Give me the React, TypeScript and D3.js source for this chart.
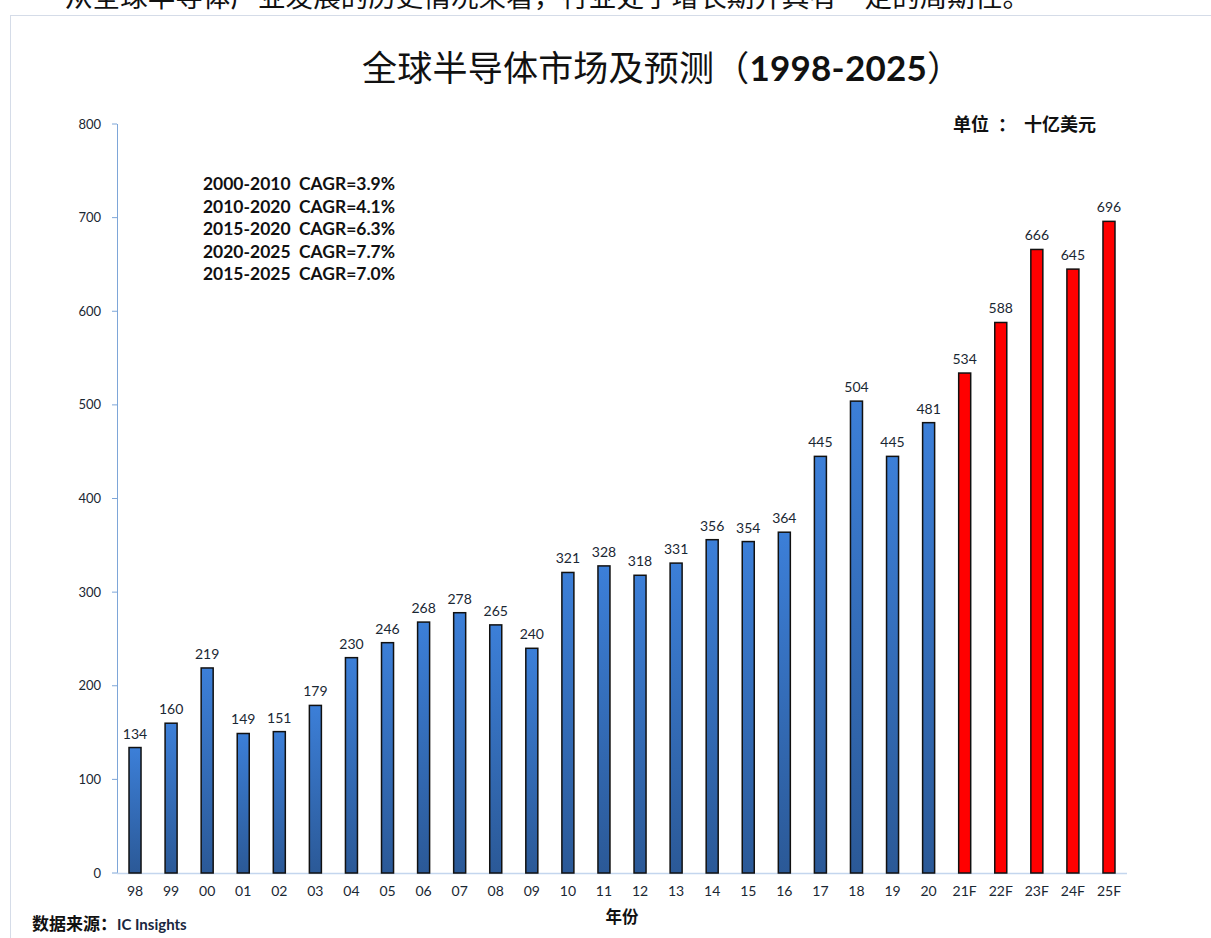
import React from "react";
import * as d3 from "d3";

const categories = ["98","99","00","01","02","03","04","05","06","07","08","09","10","11","12","13","14","15","16","17","18","19","20","21F","22F","23F","24F","25F"];
const values = [134,160,219,149,151,179,230,246,268,278,265,240,321,328,318,331,356,354,364,445,504,445,481,534,588,666,645,696];
const forecast = [false,false,false,false,false,false,false,false,false,false,false,false,false,false,false,false,false,false,false,false,false,false,false,true,true,true,true,true];
const yTicks = [0,100,200,300,400,500,600,700,800];
const cagrLines = ["2000-2010  CAGR=3.9%","2010-2020  CAGR=4.1%","2015-2020  CAGR=6.3%","2020-2025  CAGR=7.7%","2015-2025  CAGR=7.0%"];

const W = 1211, H = 938;
const left = 117, right = 1127, top = 124, bottom = 873;
const LAT = "Lato, 'Noto Sans', sans-serif";
const CJK = "'Noto Sans CJK SC', sans-serif";

export default function App() {
  const x = d3.scaleBand<string>().domain(categories).range([left, right]).paddingInner(0.667).paddingOuter(0.333);
  const y = d3.scaleLinear().domain([0, 800]).range([bottom, top]);
  return (
    <div style={{ position: "absolute", left: 0, top: 0 }}>
      <svg width={W} height={H} style={{ display: "block", background: "#fff" }}>
        <defs>
          <linearGradient id="blueGrad" x1="0" y1="0" x2="0" y2="1">
            <stop offset="0%" stopColor="#3c7fd8" />
            <stop offset="100%" stopColor="#2b5997" />
          </linearGradient>
        </defs>
        <text x={65} y={7} fontFamily={CJK} fontSize={26} fill="#111" textLength={965} lengthAdjust="spacingAndGlyphs">从全球半导体产业发展的历史情况来看，行业处于增长期并具有一定的周期性。</text>
        <line x1={10.5} y1={15} x2={10.5} y2={H} stroke="#d5dce8" />
        <line x1={10} y1={15.5} x2={W} y2={15.5} stroke="#d5dce8" />
        <text x={362} y={81} fontSize={35} fill="#111" textLength={600} lengthAdjust="spacing">
          <tspan fontFamily={CJK}>全球半导体市场及预测（</tspan>
          <tspan fontFamily={LAT} fontWeight="bold">1998-2025</tspan>
          <tspan fontFamily={CJK}>）</tspan>
        </text>
        <text y={131} fontFamily={CJK} fontWeight="bold" fontSize={18} fill="#111">
          <tspan x={953}>单位</tspan>
          <tspan x={998}>：</tspan>
          <tspan x={1024}>十亿美元</tspan>
        </text>
        {cagrLines.map((t, i) => (
          <text key={t} x={203} y={190 + i * 22.5} fontFamily={LAT} fontWeight="bold" fontSize={16.5} fill="#111" textLength={192} lengthAdjust="spacingAndGlyphs" style={{ whiteSpace: "pre" }} xmlSpace="preserve">{t}</text>
        ))}
        {yTicks.map(t => (
          <g key={t}>
            <line x1={112} x2={left} y1={y(t)} y2={y(t)} stroke="#7ea6d8" />
            <text x={101} y={y(t) + 4.5} textAnchor="end" fontFamily={LAT} fontSize={13} fill="#1a2733">{t}</text>
          </g>
        ))}
        <line x1={left + 0.5} x2={left + 0.5} y1={top} y2={bottom} stroke="#7ea6d8" />
        <line x1={left} x2={right} y1={bottom + 0.5} y2={bottom + 0.5} stroke="#c4d6ee" strokeWidth={1.5} />
        {categories.map((c, i) => {
          const bx = x(c)!;
          const by = y(values[i]);
          return (
            <g key={c}>
              <rect x={bx} y={by} width={x.bandwidth()} height={bottom - by} fill={forecast[i] ? "#ff0000" : "url(#blueGrad)"} stroke="#111" strokeWidth={1.5} />
              <text x={bx + x.bandwidth() / 2} y={by - 9} textAnchor="middle" fontFamily={LAT} fontSize={14} fill="#1a2733">{values[i]}</text>
              <text x={bx + x.bandwidth() / 2} y={896} textAnchor="middle" fontFamily={LAT} fontSize={14} fill="#1a2733">{c}</text>
            </g>
          );
        })}
        <text x={622} y={923} textAnchor="middle" fontFamily={CJK} fontWeight="bold" fontSize={16.5} fill="#111">年份</text>
        <text x={32} y={930} fontFamily={CJK} fontWeight="bold" fontSize={17} fill="#111">数据来源：<tspan fontFamily={LAT} fontSize={15} fill="#1a2740">IC Insights</tspan></text>
      </svg>
    </div>
  );
}
